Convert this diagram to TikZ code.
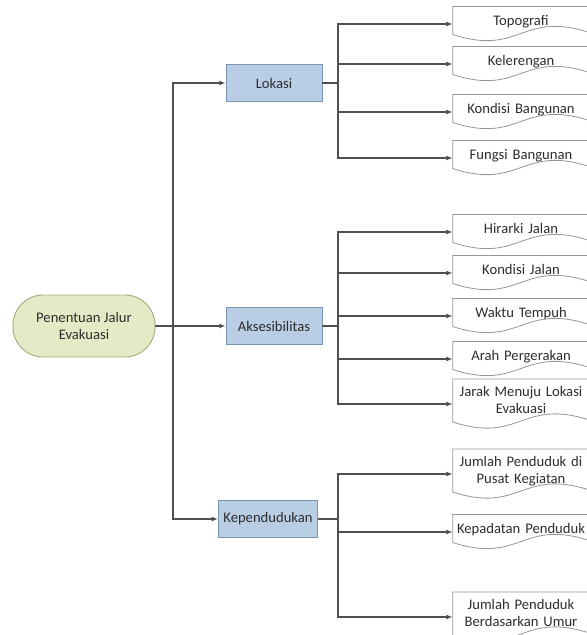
\documentclass[tikz,border=0pt]{standalone}
\usepackage{fontspec}
\setmainfont{Carlito}
\usetikzlibrary{arrows.meta, positioning, calc}
\definecolor{myline}{RGB}{80,80,80}
\definecolor{mytext}{RGB}{45,45,45}
\definecolor{mygreen}{RGB}{228,233,198}
\definecolor{mygreendraw}{RGB}{165,172,128}
\definecolor{myblue}{RGB}{185,205,229}
\definecolor{mybluedraw}{RGB}{122,148,180}
\definecolor{mydoc}{RGB}{150,150,150}
\tikzset{
  rootnode/.style={rectangle, draw=mygreendraw, fill=mygreen,
    minimum width=42.6mm, minimum height=18.6mm, rounded corners=9mm,
    align=center, line width=0.8pt},
  mainbox/.style={rectangle, draw=mybluedraw, fill=myblue,
    minimum width=28.8mm, minimum height=11.1mm, inner xsep=1.5mm,
    line width=0.7pt},
  docbox/.style={rectangle, text width=39mm, align=center, inner xsep=1mm,
    minimum height=10.5mm, outer sep=0pt,
    execute at end node={\rule[-2.4mm]{0pt}{0pt}}},
  twoline/.style={minimum height=15mm},
  docline/.style={draw=mydoc, line width=0.7pt},
  arrow/.style={-{Latex[length=1.9mm, width=1.5mm]}, line width=1.2pt, color=myline},
  line/.style={line width=1.2pt, color=myline}
}

\begin{document}
\begin{tikzpicture}[x=0.3mm, y=-0.3mm,
    every node/.style={font=\fontsize{12.5}{14.5}\selectfont, text=mytext}]
  \useasboundingbox (0,0) rectangle (587,635);
  \clip (0,0) rectangle (587,635);

  % Root and the three main criteria
  \node[rootnode] (root) at (84,326) {Penentuan Jalur\\Evakuasi};
  \node[mainbox] (lok) at (274,83) {Lokasi};
  \node[mainbox] (aks) at (274,326) {Aksesibilitas};
  \node[mainbox] (kep) at (268,519) {Kependudukan};

  % Sub criteria (document shapes)
  \node[docbox] (topo) at (521,24) {Topografi};
  \node[docbox] (lereng) at (521,64) {Kelerengan};
  \node[docbox] (kbang) at (521,112) {Kondisi Bangunan};
  \node[docbox] (fbang) at (521,158) {Fungsi Bangunan};

  \node[docbox] (hirarki) at (521,232) {Hirarki Jalan};
  \node[docbox] (kjalan) at (521,273) {Kondisi Jalan};
  \node[docbox] (waktu) at (521,316) {Waktu Tempuh};
  \node[docbox] (arah) at (521,359) {Arah Pergerakan};
  \node[docbox, twoline] (jarak) at (521,404) {Jarak Menuju Lokasi\\Evakuasi};

  \node[docbox, twoline] (jpusat) at (521,474) {Jumlah Penduduk di\\Pusat Kegiatan};
  \node[docbox] (padat) at (521,532) {Kepadatan Penduduk};
  \node[docbox, twoline] (jumur) at (521,617) {Jumlah Penduduk\\Berdasarkan Umur};

  % Wavy outlines
  \foreach \n in {topo,lereng,kbang,fbang,hirarki,kjalan,waktu,arah,jarak,jpusat,padat,jumur}
    \draw[docline] (\n.north west) -- (\n.north east) -- ([yshift=2.7mm]\n.south east)
      .. controls +(-68,-22) and +(68,22) .. ([yshift=2.1mm]\n.south west) -- cycle;

  % Junctions
  \coordinate (j0) at (173,326);
  \coordinate (j1) at (338,83);
  \coordinate (j2) at (338,326);
  \coordinate (j3) at (338,519);

  % Root to main criteria
  \draw[arrow] (root.east) -- (aks.west);
  \draw[arrow] (j0) |- (lok.west);
  \draw[arrow] (j0) |- (kep.west);

  % Lokasi
  \draw[line] (lok.east) -- (j1);
  \foreach \n in {topo,lereng,kbang,fbang}
    \draw[arrow] (j1) |- (\n.west);

  % Aksesibilitas
  \draw[line] (aks.east) -- (j2);
  \foreach \n in {hirarki,kjalan,waktu,arah,jarak}
    \draw[arrow] (j2) |- (\n.west);

  % Kependudukan
  \draw[line] (kep.east) -- (j3);
  \foreach \n in {jpusat,padat,jumur}
    \draw[arrow] (j3) |- (\n.west);
\end{tikzpicture}
\end{document}
